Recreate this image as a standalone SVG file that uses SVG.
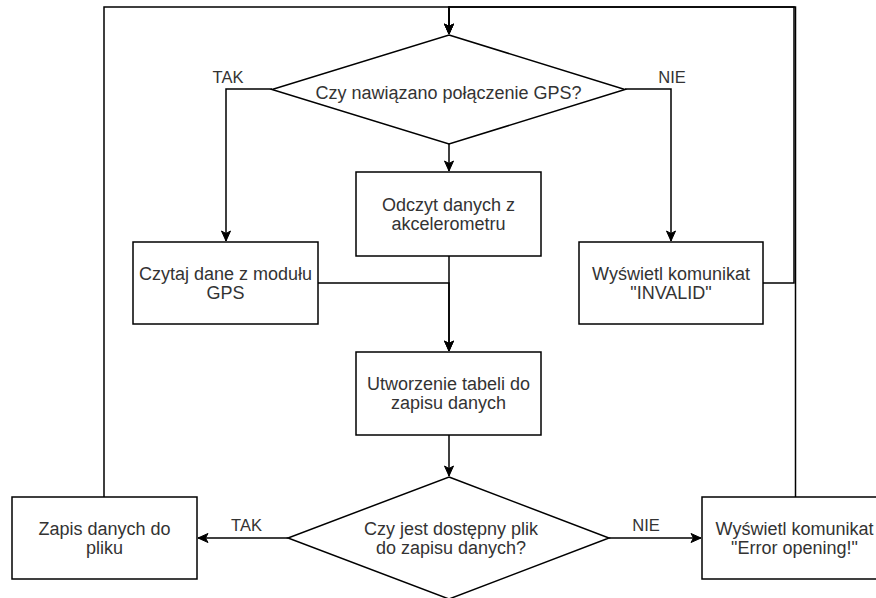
<svg xmlns="http://www.w3.org/2000/svg" width="876" height="598" viewBox="0 0 876 598">
<defs>
<style>
.box{fill:#fff;stroke:#000;stroke-width:1.5}
.edge{fill:none;stroke:#000;stroke-width:1.5}
.t{font-family:"Liberation Sans",Arial,sans-serif;font-size:18px;fill:#333;text-anchor:middle}
.lbl{font-family:"Liberation Sans",Arial,sans-serif;font-size:16.5px;fill:#333;text-anchor:middle}
</style>
<marker id="arr" markerUnits="userSpaceOnUse" markerWidth="12" markerHeight="12" viewBox="0 0 12 12" refX="11" refY="6" orient="auto">
<path d="M1,1.5 L11,6 L1,10.5 L3.5,6 Z" fill="#000" stroke="#000" stroke-width="1"/>
</marker>
</defs>
<rect width="876" height="598" fill="#fff"/>
<g id="connectors">
<path class="edge" d="M104,497 V7 H449 V34" marker-end="url(#arr)"/>
<path class="edge" d="M795.5,497 V7 H449 V34" marker-end="url(#arr)"/>
<path class="edge" d="M763,283 H794 V7 H449 V34" marker-end="url(#arr)"/>
<path class="edge" d="M272,89 H226 V241" marker-end="url(#arr)"/>
<path class="edge" d="M625,89 H671 V241" marker-end="url(#arr)"/>
<path class="edge" d="M449,144 V171" marker-end="url(#arr)"/>
<path class="edge" d="M318,283 H449 V351" marker-end="url(#arr)"/>
<path class="edge" d="M449,256 V351" marker-end="url(#arr)"/>
<path class="edge" d="M449,435 V476" marker-end="url(#arr)"/>
<path class="edge" d="M288,538 H198" marker-end="url(#arr)"/>
<path class="edge" d="M609,538 H701" marker-end="url(#arr)"/>
<text class="lbl" x="228" y="83">TAK</text>
<text class="lbl" x="672" y="83">NIE</text>
<text class="lbl" x="246.5" y="531">TAK</text>
<text class="lbl" x="646" y="531">NIE</text>
</g>
<g id="d1">
<polygon class="box" points="449,35 625,89.5 449,144 272,89.5"/>
<text class="t" x="448.5" y="99">Czy nawiązano połączenie GPS?</text>
</g>
<g id="odczyt">
<rect class="box" x="356" y="172" width="185" height="84"/>
<text class="t" x="448.5" y="210.5">Odczyt danych z</text>
<text class="t" x="448.5" y="229.5">akcelerometru</text>
</g>
<g id="czytaj">
<rect class="box" x="133" y="242" width="185" height="82"/>
<text class="t" x="225.5" y="279.5">Czytaj dane z modułu</text>
<text class="t" x="225.5" y="298.5">GPS</text>
</g>
<g id="invalid">
<rect class="box" x="579" y="242" width="184" height="82"/>
<text class="t" x="671" y="279.5">Wyświetl komunikat</text>
<text class="t" x="671" y="298.5">"INVALID"</text>
</g>
<g id="utworzenie">
<rect class="box" x="356" y="352" width="185" height="83"/>
<text class="t" x="448.5" y="390">Utworzenie tabeli do</text>
<text class="t" x="448.5" y="409">zapisu danych</text>
</g>
<g id="d2">
<polygon class="box" points="449,477 609,538 449,599 288,538"/>
<text class="t" x="451" y="535">Czy jest dostępny plik</text>
<text class="t" x="451" y="554">do zapisu danych?</text>
</g>
<g id="zapis">
<rect class="box" x="12" y="497" width="185" height="82"/>
<text class="t" x="104.5" y="534.5">Zapis danych do</text>
<text class="t" x="104.5" y="553.5">pliku</text>
</g>
<g id="error">
<rect class="box" x="702" y="497" width="185" height="82"/>
<text class="t" x="794.5" y="534.5">Wyświetl komunikat</text>
<text class="t" x="794.5" y="553.5">"Error opening!"</text>
</g>
</svg>
